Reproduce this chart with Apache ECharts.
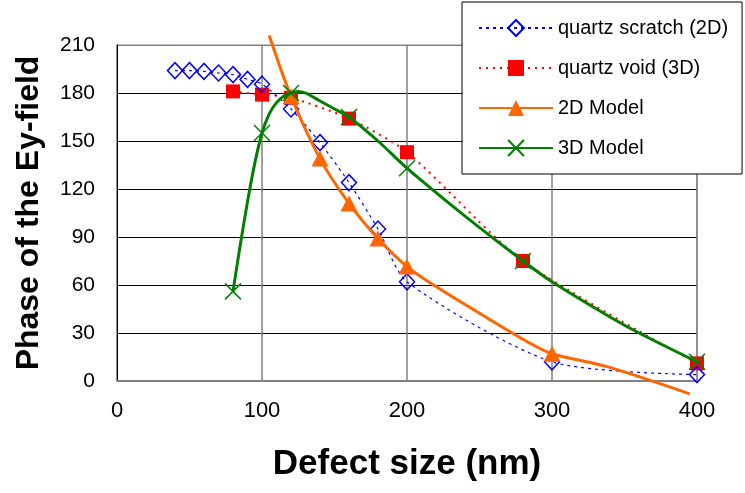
<!DOCTYPE html>
<html>
<head>
<meta charset="utf-8">
<script src="https://cdn.jsdelivr.net/npm/echarts@6/dist/echarts.min.js"></script>
<style>
  html, body { margin: 0; padding: 0; background: #fff; }
  #chart { width: 745px; height: 493px; }
</style>
</head>
<body>
<div id="chart"></div>
<script>
// Measured phase: quartz scratch (2D)
const scratchX = [40, 50, 60, 70, 80, 90, 100, 120, 140, 160, 180, 200, 300, 400];
const scratchY = [194, 194, 193.5, 192.5, 191.5, 188.5, 185.5, 170, 149, 124, 95, 62, 12, 4];

// Measured phase: quartz void (3D)
const voidX = [80, 100, 120, 160, 200, 280, 400];
const voidY = [181, 179, 177, 164, 143, 75, 11];

// 2D model curve; markers only at the computed sizes
const model2dX = [105, 120, 140, 160, 180, 200, 220, 256, 285, 300, 338, 395];
const model2dY = [216, 178, 139, 111, 89, 71.5, 59, 39, 23.5, 17, 9, -8];
const model2dMarked = [120, 140, 160, 180, 200, 300];

// 3D model curve; markers only at the computed sizes
const model3dX = [80, 85, 90, 95, 100, 105, 110, 115, 120, 125, 130, 140, 150, 160, 180, 200, 240, 280, 300, 340, 360, 400];
const model3dY = [56, 85, 112, 136, 155, 167, 174, 178, 180, 181, 180, 175, 170, 165, 150, 133, 103, 75, 62, 40, 30, 12];
const model3dMarked = [80, 100, 120, 160, 200, 280, 400];

// Axis ticks
const xTicks = { min: 0, max: 400, interval: 100 };
const yTicks = { min: 0, max: 210, interval: 30 };

const FONT = 'Liberation Sans, Arial, sans-serif';

function pairs(xs, ys, marked) {
  return xs.map((x, i) => {
    const item = { value: [x, ys[i]] };
    if (marked && marked.indexOf(x) < 0) item.symbol = 'none';
    return item;
  });
}

const chart = echarts.init(document.getElementById('chart'), null, { renderer: 'canvas' });

chart.setOption({
  animation: false,
  backgroundColor: '#fff',
  grid: {
    left: 117, top: 45, right: 48, bottom: 112,
    show: true, borderColor: '#808080', borderWidth: 1, backgroundColor: 'transparent'
  },
  legend: {
    orient: 'vertical',
    left: 462, top: 2,
    padding: [16, 14, 16, 16],
    itemGap: 20,
    itemWidth: 74,
    itemHeight: 20,
    backgroundColor: '#fff',
    borderColor: '#000',
    borderWidth: 1,
    textStyle: { fontFamily: FONT, fontSize: 20, color: '#000', lineHeight: 20 },
    data: ['quartz scratch (2D)', 'quartz void (3D)', '2D Model', '3D Model']
  },
  xAxis: {
    type: 'value',
    min: xTicks.min, max: xTicks.max, interval: xTicks.interval,
    name: 'Defect size (nm)',
    nameLocation: 'middle',
    nameGap: 66,
    nameTextStyle: { fontFamily: FONT, fontSize: 35, fontWeight: 'bold', color: '#000' },
    axisLine: { lineStyle: { color: '#808080', width: 2 } },
    axisTick: { show: false },
    axisLabel: { fontFamily: FONT, fontSize: 22, color: '#000', margin: 19 },
    splitLine: { show: true, lineStyle: { color: '#808080', width: 1.5 } }
  },
  yAxis: {
    type: 'value',
    min: yTicks.min, max: yTicks.max, interval: yTicks.interval,
    name: 'Phase of the Ey-field',
    nameLocation: 'middle',
    nameGap: 72,
    nameTextStyle: { fontFamily: FONT, fontSize: 32, fontWeight: 'bold', color: '#000' },
    axisLine: { lineStyle: { color: '#000', width: 1 } },
    axisTick: { show: false },
    axisLabel: { fontFamily: FONT, fontSize: 21, color: '#000', margin: 22 },
    splitLine: {
      show: true,
      lineStyle: { color: ['#000', '#000', '#000', '#000', '#000', '#000', '#000', '#808080'], width: 1 }
    }
  },
  series: [
    {
      name: 'quartz scratch (2D)',
      type: 'line',
      smooth: 0.25,
      clip: false,
      data: pairs(scratchX, scratchY),
      symbol: 'diamond',
      symbolSize: [15, 16],
      itemStyle: { color: 'rgba(255,255,255,0)', borderColor: '#0000FF', borderWidth: 1.5 },
      lineStyle: { color: '#0000FF', width: 1.2, type: [3, 4] },
      z: 3
    },
    {
      name: 'quartz void (3D)',
      type: 'line',
      smooth: 0.25,
      clip: false,
      data: pairs(voidX, voidY),
      symbol: 'rect',
      symbolSize: 14,
      itemStyle: { color: '#FF0000' },
      lineStyle: { color: '#FF0000', width: 2, type: [2, 5] },
      z: 2
    },
    {
      name: '2D Model',
      type: 'line',
      smooth: 0.3,
      clip: false,
      data: pairs(model2dX, model2dY, model2dMarked),
      symbol: 'triangle',
      symbolSize: [17, 16],
      itemStyle: { color: '#FF6600' },
      lineStyle: { color: '#FF6600', width: 3 },
      z: 4
    },
    {
      name: '3D Model',
      type: 'line',
      smooth: 0.3,
      clip: false,
      data: pairs(model3dX, model3dY, model3dMarked),
      symbol: 'path://M0,0L16,16M16,0L0,16',
      symbolSize: 16,
      itemStyle: { color: '#008000', borderColor: '#008000', borderWidth: 1.5 },
      lineStyle: { color: '#008000', width: 3 },
      z: 5
    }
  ]
});
</script>
</body>
</html>
